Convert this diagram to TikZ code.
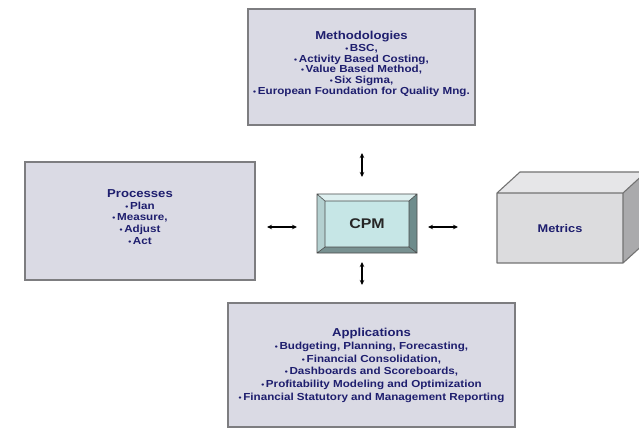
\documentclass[tikz,border=0pt]{standalone}
\usepackage{fontspec}
\setmainfont[FakeStretch=1.14]{Liberation Sans}
\usetikzlibrary{arrows.meta}
\definecolor{boxfill}{RGB}{218,218,228}
\definecolor{boxline}{RGB}{125,125,128}
\definecolor{navy}{RGB}{30,30,110}
\definecolor{cpmface}{RGB}{198,230,230}
\definecolor{cpmtop}{RGB}{222,240,240}
\definecolor{cpmleft}{RGB}{180,208,208}
\definecolor{cpmright}{RGB}{110,140,140}
\definecolor{cpmbottom}{RGB}{120,145,145}
\definecolor{cubefront}{RGB}{220,220,222}
\definecolor{cubetop}{RGB}{230,230,232}
\definecolor{cubeside}{RGB}{170,170,172}
\newcommand{\ttlfont}{\fontsize{11.5}{13}\selectfont}
\newcommand{\bul}{{\fontsize{7.5}{8}\selectfont •}\,}
\tikzset{
  panel/.style={draw=boxline, line width=1.6pt, fill=boxfill, rectangle, inner sep=0pt},
  paneltext/.style={text=navy, align=center, font=\bfseries\fontsize{10.2}{10.6}\selectfont, inner sep=0pt},
  link/.style={line width=1.2pt, {Stealth[length=5pt,width=4.5pt]}-{Stealth[length=5pt,width=4.5pt]}}
}
\begin{document}
\begin{tikzpicture}[x=1pt,y=-1pt]
\useasboundingbox (0,0) rectangle (639,430);
\fill[white] (0,0) rectangle (639,430);
\clip (0,0) rectangle (639,430);
% Methodologies
\node[panel, minimum width=227pt, minimum height=116pt] (meth) at (361.5,67) {};
\node[paneltext] (methtxt) at (361.5,63.5) {{\ttlfont Methodologies}\\[2pt]
\bul BSC,\\ \bul Activity Based Costing,\\ \bul Value Based Method,\\ \bul Six Sigma,\\ \bul European Foundation for Quality Mng.};
% Processes
\node[panel, minimum width=230pt, minimum height=118pt] (proc) at (140,221) {};
\node[paneltext, font=\bfseries\fontsize{10.2}{11.6}\selectfont] (proctxt) at (140,217) {{\ttlfont Processes}\\
\bul Plan\\ \bul Measure,\\ \bul Adjust\\ \bul Act};
% Applications
\node[panel, minimum width=287pt, minimum height=124pt] (appl) at (371.5,365) {};
\node[paneltext, font=\bfseries\fontsize{10.2}{12.8}\selectfont] (appltxt) at (371.5,365.5) {{\ttlfont Applications}\\
\bul Budgeting, Planning, Forecasting,\\ \bul Financial Consolidation,\\ \bul Dashboards and Scoreboards,\\ \bul Profitability Modeling and Optimization\\ \bul Financial Statutory and Management Reporting};
% CPM bevel box
\coordinate (c1) at (317,194); \coordinate (c2) at (417,194);
\coordinate (c3) at (417,253); \coordinate (c4) at (317,253);
\coordinate (i1) at (325,201); \coordinate (i2) at (409,201);
\coordinate (i3) at (409,247); \coordinate (i4) at (325,247);
\fill[cpmtop] (c1) -- (c2) -- (i2) -- (i1) -- cycle;
\fill[cpmright] (c2) -- (c3) -- (i3) -- (i2) -- cycle;
\fill[cpmbottom] (c3) -- (c4) -- (i4) -- (i3) -- cycle;
\fill[cpmleft] (c4) -- (c1) -- (i1) -- (i4) -- cycle;
\fill[cpmface] (i1) rectangle (i3);
\draw[black!70, line width=0.6pt] (c1) -- (c2) -- (c3) -- (c4) -- cycle (i1) rectangle (i3)
  (c1) -- (i1) (c2) -- (i2) (c3) -- (i3) (c4) -- (i4);
\node[font=\bfseries\fontsize{14}{16}\selectfont, text=black!85, inner sep=0pt] (cpm) at (367,223.5) {CPM};
% Metrics cube
\coordinate (f1) at (497,193); \coordinate (f2) at (623,193);
\coordinate (f3) at (623,263); \coordinate (f4) at (497,263);
\coordinate (b1) at (520,172); \coordinate (b2) at (646,172);
\coordinate (b3) at (646,242);
\fill[cubetop] (f1) -- (b1) -- (b2) -- (f2) -- cycle;
\fill[cubeside] (f2) -- (b2) -- (b3) -- (f3) -- cycle;
\fill[cubefront] (f1) rectangle (f3);
\draw[black!55, line width=1.1pt, line join=round] (f1) -- (f2) -- (f3) -- (f4) -- cycle
  (f1) -- (b1) -- (b2) -- (f2) (b2) -- (b3) -- (f3);
\node[font=\bfseries\fontsize{11.2}{13}\selectfont, text=navy, inner sep=0pt] (metrics) at (560,228) {Metrics};
% connectors
\coordinate (la) at (267,227); \coordinate (lb) at (297,227);
\coordinate (ra) at (428,227); \coordinate (rb) at (458,227);
\coordinate (ta) at (362,153); \coordinate (tb) at (362,177);
\coordinate (ba) at (362,262); \coordinate (bb) at (362,285);
\draw[link] (la) -- (lb);
\draw[link] (ra) -- (rb);
\draw[link] (ta) -- (tb);
\draw[link] (ba) -- (bb);
\end{tikzpicture}
\end{document}
